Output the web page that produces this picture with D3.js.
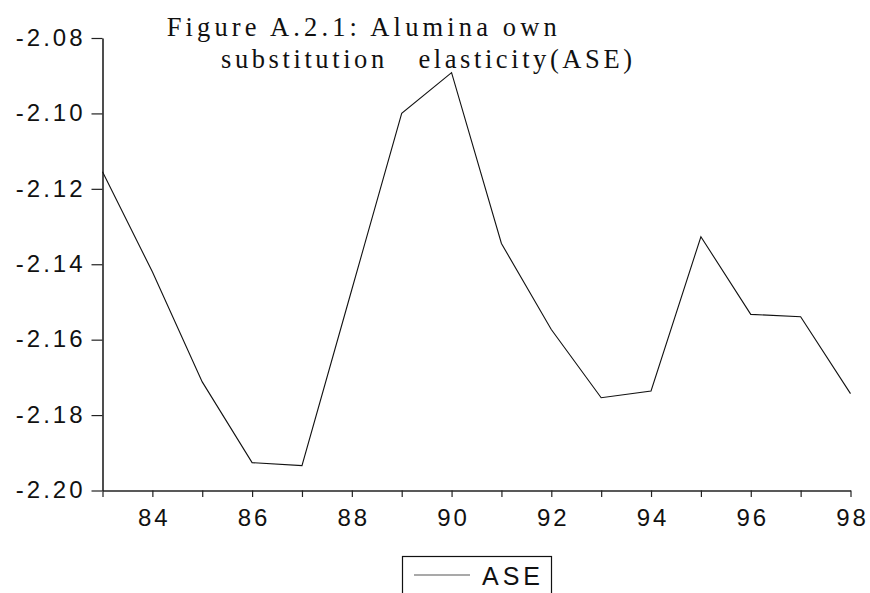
<!DOCTYPE html>
<html>
<head>
<meta charset="utf-8">
<script src="https://cdn.jsdelivr.net/npm/d3@7"></script>
<style>
  html, body { margin: 0; padding: 0; background: #fff; }
  svg { display: block; }
</style>
</head>
<body>
<script>
const years = [83, 84, 85, 86, 87, 88, 89, 90, 91, 92, 93, 94, 95, 96, 97, 98];
const ase = [-2.1155, -2.1420, -2.1712, -2.1926, -2.1934, -2.1467, -2.1000, -2.0892,
             -2.1345, -2.1573, -2.1754, -2.1736, -2.1327, -2.1533, -2.1539, -2.1743];
const yTicks = [-2.20, -2.18, -2.16, -2.14, -2.12, -2.10, -2.08];
const xTicks = [83, 84, 85, 86, 87, 88, 89, 90, 91, 92, 93, 94, 95, 96, 97, 98];
const xLabelYears = [84, 86, 88, 90, 92, 94, 96, 98];
const titleLines = ["Figure A.2.1: Alumina own", "substitution   elasticity(ASE)"];
const seriesName = "ASE";

const W = 870, H = 593;
const svg = d3.select("body").append("svg").attr("width", W).attr("height", H);

const x = d3.scaleLinear().domain([83, 98]).range([102.5, 850.5]);
const y = d3.scaleLinear().domain([-2.20, -2.08]).range([490.5, 38]);

const sans = "Arial, 'Liberation Sans', Helvetica, sans-serif";
const serif = "'Times New Roman', 'Liberation Serif', Times, serif";

// Y axis
const fmt = d => d.toFixed(2);
const yAxis = d3.axisLeft(y).tickValues(yTicks).tickFormat(fmt)
  .tickSize(11).tickSizeOuter(0).tickPadding(6);
const gy = svg.append("g").attr("transform", "translate(102.5,0)").call(yAxis);
gy.select(".domain").attr("stroke", "#222").attr("stroke-width", 1.6);
gy.selectAll(".tick line").attr("stroke", "#222").attr("stroke-width", 1.2);
gy.selectAll(".tick text")
  .attr("font-family", sans).attr("font-size", 24).attr("fill", "#111")
  .attr("letter-spacing", 3).attr("dy", "0.30em").attr("x", -17);

// X axis
const xAxis = d3.axisBottom(x).tickValues(xTicks)
  .tickFormat(d => xLabelYears.includes(d) ? String(d) : "")
  .tickSize(6.5).tickSizeOuter(0).tickPadding(12);
const gx = svg.append("g").attr("transform", "translate(0,490.5)").call(xAxis);
gx.select(".domain").attr("stroke", "#222").attr("stroke-width", 1.6);
gx.selectAll(".tick line").attr("stroke", "#222").attr("stroke-width", 1.2);
gx.selectAll(".tick text")
  .attr("font-family", sans).attr("font-size", 24).attr("fill", "#111")
  .attr("letter-spacing", 3).attr("dx", "1.5");

// Line
const line = d3.line().x((d, i) => x(years[i])).y(d => y(d));
svg.append("path").datum(ase)
  .attr("d", line).attr("fill", "none").attr("stroke", "#111").attr("stroke-width", 1.1);

// Title
const title = svg.append("g");
title.append("text").attr("x", 166.7).attr("y", 36)
  .attr("font-family", serif).attr("font-size", 26.5).attr("fill", "#111")
  .attr("textLength", 390).attr("lengthAdjust", "spacing")
  .style("white-space", "pre")
  .text(titleLines[0]);
title.append("text").attr("x", 221).attr("y", 67.5)
  .attr("font-family", serif).attr("font-size", 26.5).attr("fill", "#111")
  .attr("textLength", 411).attr("lengthAdjust", "spacing")
  .style("white-space", "pre")
  .text(titleLines[1]);

// Legend
const lg = svg.append("g");
lg.append("rect").attr("x", 402.5).attr("y", 556.5).attr("width", 149).attr("height", 50)
  .attr("fill", "none").attr("stroke", "#111").attr("stroke-width", 1.2);
lg.append("line").attr("x1", 414).attr("x2", 470).attr("y1", 575).attr("y2", 575)
  .attr("stroke", "#555").attr("stroke-width", 1.2);
lg.append("text").attr("x", 482).attr("y", 585)
  .attr("font-family", sans).attr("font-size", 25).attr("fill", "#111")
  .attr("letter-spacing", 4).text(seriesName);
</script>
</body>
</html>
